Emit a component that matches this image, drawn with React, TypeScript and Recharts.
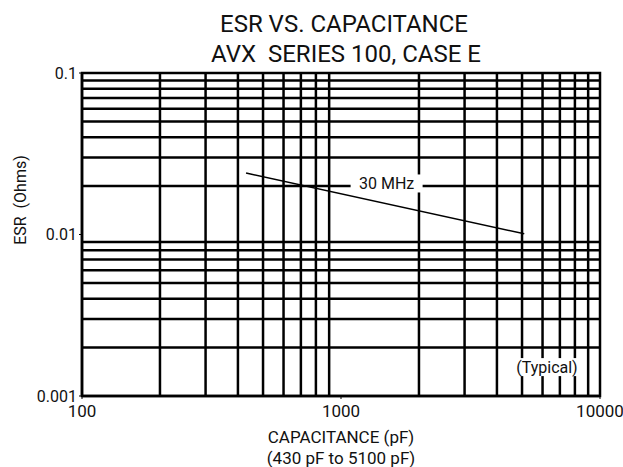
import {
  LineChart,
  Line,
  XAxis,
  YAxis,
  ReferenceLine,
  ReferenceArea,
  ReferenceDot,
  Label,
} from "recharts";

const capacitance = [430, 5100];
const esr30MHz = [0.024, 0.0101];

const xTicks = [100, 1000, 10000];
const yTicks = [0.001, 0.01, 0.1];

const xGrid = [200, 300, 400, 500, 600, 700, 800, 900, 2000, 3000, 4000, 5000, 6000, 7000, 8000, 9000];
const yGrid = [0.002, 0.003, 0.004, 0.005, 0.006, 0.007, 0.008, 0.009, 0.02, 0.03, 0.04, 0.05, 0.06, 0.07, 0.08, 0.09];

const notes = [
  { x: 1500, y: 0.0207, text: "30 MHz", w: 72 },
  { x: 6240, y: 0.00151, text: "(Typical)", w: 74 },
];

const data = capacitance.map((c, i) => ({ cap: c, esr: esr30MHz[i] }));

const FONT = "Roboto, 'Noto Sans', sans-serif";
const INK = "#111";

const NoteBox = (text: string, w: number) => (props: any) => {
  const { cx, cy } = props;
  return (
    <g>
      <rect x={cx - w / 2} y={cy - 9} width={w} height={18} fill="#fff" />
      <text x={cx} y={cy} textAnchor="middle" dominantBaseline="central" fontSize={16} fill={INK} fontFamily={FONT}>
        {text}
      </text>
    </g>
  );
};

export default function App() {
  return (
    <div style={{ position: "absolute", left: 0, top: 0, background: "#fff", fontFamily: FONT }}>
      <svg width={623} height={70} style={{ position: "absolute", left: 0, top: 0 }}>
        <text x={344} y={32} textAnchor="middle" fontSize={24} fill={INK} fontFamily={FONT}>
          ESR VS. CAPACITANCE
        </text>
        <text x={346} y={62} textAnchor="middle" fontSize={24} fill={INK} fontFamily={FONT} xmlSpace="preserve">
          AVX  SERIES 100, CASE E
        </text>
      </svg>
      <LineChart width={623} height={467} data={data} margin={{ top: 73, right: 23, left: 0, bottom: 0 }}>
        {xGrid.map((v) => (
          <ReferenceLine key={"x" + v} x={v} stroke="#000" strokeWidth={2.5} />
        ))}
        {yGrid.map((v) => (
          <ReferenceLine key={"y" + v} y={v} stroke="#000" strokeWidth={2.5} />
        ))}
        <ReferenceArea x1={100} x2={10000} y1={0.001} y2={0.1} fill="none" stroke="#000" strokeWidth={2.5} />
        <XAxis
          dataKey="cap"
          type="number"
          scale="log"
          domain={[100, 10000]}
          ticks={xTicks}
          allowDataOverflow
          height={71}
          tickSize={3}
          axisLine={{ stroke: "#000", strokeWidth: 2.5 }}
          tickLine={{ stroke: "#000" }}
          tick={{ fontSize: 17, fill: INK, fontFamily: FONT }}
          tickMargin={6}
        >
          <Label
            content={(p: any) => {
              const vb = p.viewBox;
              const cx = vb.x + vb.width / 2;
              return (
                <g>
                  <text x={cx} y={vb.y + 47} textAnchor="middle" fontSize={17} fill={INK} fontFamily={FONT}>
                    CAPACITANCE (pF)
                  </text>
                  <text x={cx} y={vb.y + 68} textAnchor="middle" fontSize={17} fill={INK} fontFamily={FONT}>
                    (430 pF to 5100 pF)
                  </text>
                </g>
              );
            }}
          />
        </XAxis>
        <YAxis
          type="number"
          scale="log"
          domain={[0.001, 0.1]}
          ticks={yTicks}
          allowDataOverflow
          width={82}
          tickSize={3}
          axisLine={{ stroke: "#000", strokeWidth: 2.5 }}
          tickLine={{ stroke: "#000" }}
          tick={{ fontSize: 16, fill: INK, fontFamily: FONT }}
          tickMargin={2}
        >
          <Label
            content={() => (
              <text
                x={0}
                y={0}
                transform="translate(26,200) rotate(-90)"
                textAnchor="middle"
                fontSize={16}
                fill={INK}
                fontFamily={FONT}
                xmlSpace="preserve"
              >
                ESR  (Ohms)
              </text>
            )}
          />
        </YAxis>
        <Line dataKey="esr" stroke="#000" strokeWidth={1.5} dot={false} isAnimationActive={false} />
        {notes.map((n) => (
          <ReferenceDot key={n.text} x={n.x} y={n.y} r={0} shape={NoteBox(n.text, n.w)} />
        ))}
      </LineChart>
    </div>
  );
}
